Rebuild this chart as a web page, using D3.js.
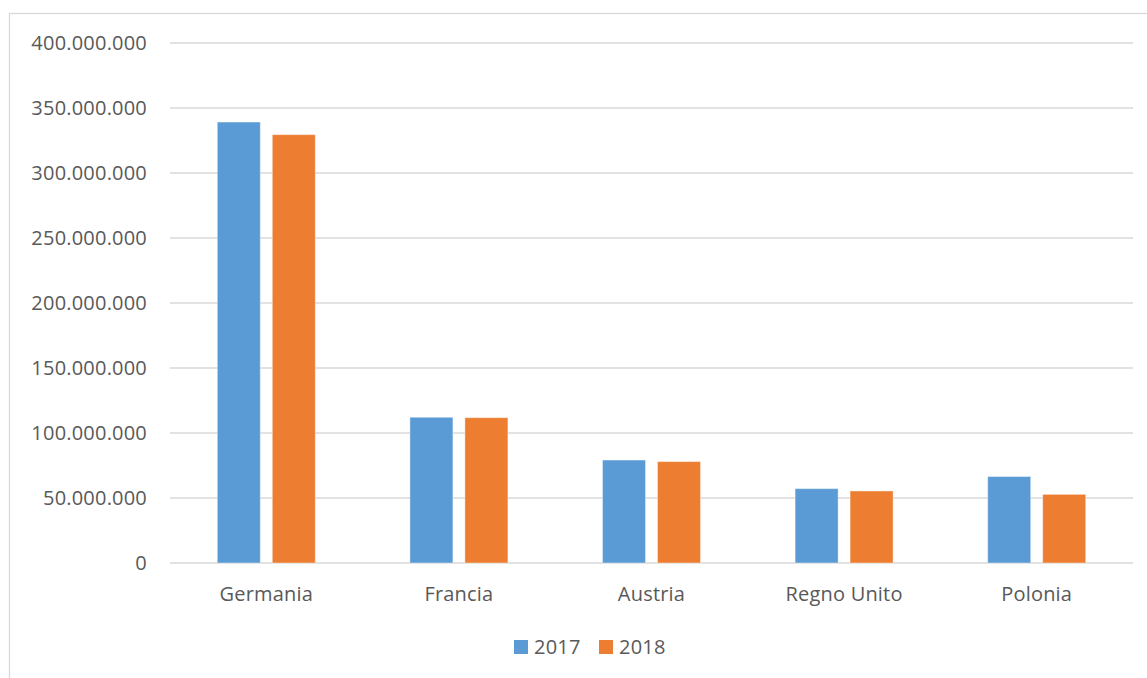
<!DOCTYPE html>
<html>
<head>
<meta charset="utf-8">
<script src="https://cdn.jsdelivr.net/npm/d3@7"></script>
<style>
  body { margin: 0; background: #fff; }
  text { font-family: "Open Sans", "Liberation Sans", sans-serif; fill: #595959; letter-spacing: 0.2px; }
</style>
</head>
<body>
<svg id="chart"></svg>
<script>
const categories = ["Germania", "Francia", "Austria", "Regno Unito", "Polonia"];
const seriesNames = ["2017", "2018"];
const values2017 = [339200000, 112100000, 79200000, 57200000, 66500000];
const values2018 = [329500000, 111800000, 78000000, 55400000, 52800000];
const yTicks = [0, 50000000, 100000000, 150000000, 200000000, 250000000, 300000000, 350000000, 400000000];
const colors = ["#5B9BD5", "#ED7D31"];

const width = 1147, height = 678;
const margin = { left: 170, right: 14, top: 43, bottom: 115 };

const svg = d3.select('#chart')
    .attr('width', width)
    .attr('height', height);

// outer chart frame
svg.append('rect')
    .attr('x', 9.5).attr('y', 13.5)
    .attr('width', width).attr('height', height)
    .attr('fill', 'none')
    .attr('stroke', '#d9d9d9')
    .attr('stroke-width', 1.3);

const x = d3.scaleBand()
    .domain(categories)
    .range([margin.left, width - margin.right]);

const y = d3.scaleLinear()
    .domain([0, 400000000])
    .range([height - margin.bottom, margin.top]);

const x1 = d3.scaleBand()
    .domain(seriesNames)
    .range([0, 98])
    .paddingInner(0.218);

const fmt = d => d3.format(',')(d).replace(/,/g, '.');

// gridlines
svg.append('g')
    .selectAll('line')
    .data(yTicks)
    .enter()
    .append('line')
    .attr('x1', margin.left)
    .attr('x2', width - margin.right)
    .attr('y1', d => y(d))
    .attr('y2', d => y(d))
    .attr('stroke', '#d9d9d9')
    .attr('stroke-width', 1.4);

// y labels
svg.append('g')
    .selectAll('text')
    .data(yTicks)
    .enter()
    .append('text')
    .attr('x', 147)
    .attr('y', d => y(d))
    .attr('dy', '0.36em')
    .attr('text-anchor', 'end')
    .style('font-size', '20px')
    .text(fmt);

// bars
const data = categories.map((c, i) => ({ cat: c, vals: [values2017[i], values2018[i]] }));
const groups = svg.append('g')
    .selectAll('g')
    .data(data)
    .enter()
    .append('g')
    .attr('transform', d => 'translate(' + (x(d.cat) + x.bandwidth() / 2 - 49) + ',0)');

groups.selectAll('rect')
    .data(d => d.vals.map((v, i) => ({ key: seriesNames[i], value: v, i: i })))
    .enter()
    .append('rect')
    .attr('x', d => x1(d.key))
    .attr('y', d => y(d.value))
    .attr('width', x1.bandwidth())
    .attr('height', d => y(0) - y(d.value))
    .attr('fill', d => colors[d.i])
    .attr('stroke', '#fff')
    .attr('stroke-opacity', 0.4)
    .attr('stroke-width', 1);

// category labels
svg.append('g')
    .selectAll('text')
    .data(categories)
    .enter()
    .append('text')
    .attr('x', d => x(d) + x.bandwidth() / 2)
    .attr('y', 601)
    .attr('text-anchor', 'middle')
    .style('font-size', '20px')
    .text(d => d);

// legend
const legendX = [514, 599];
const legend = svg.append('g')
    .selectAll('g')
    .data(seriesNames)
    .enter()
    .append('g')
    .attr('transform', (d, i) => 'translate(' + legendX[i] + ',640)');
legend.append('rect')
    .attr('width', 14)
    .attr('height', 14)
    .attr('fill', (d, i) => colors[i]);
legend.append('text')
    .attr('x', 20)
    .attr('y', 7)
    .attr('dy', '0.36em')
    .style('font-size', '20px')
    .text(d => d);
</script>
</body>
</html>
